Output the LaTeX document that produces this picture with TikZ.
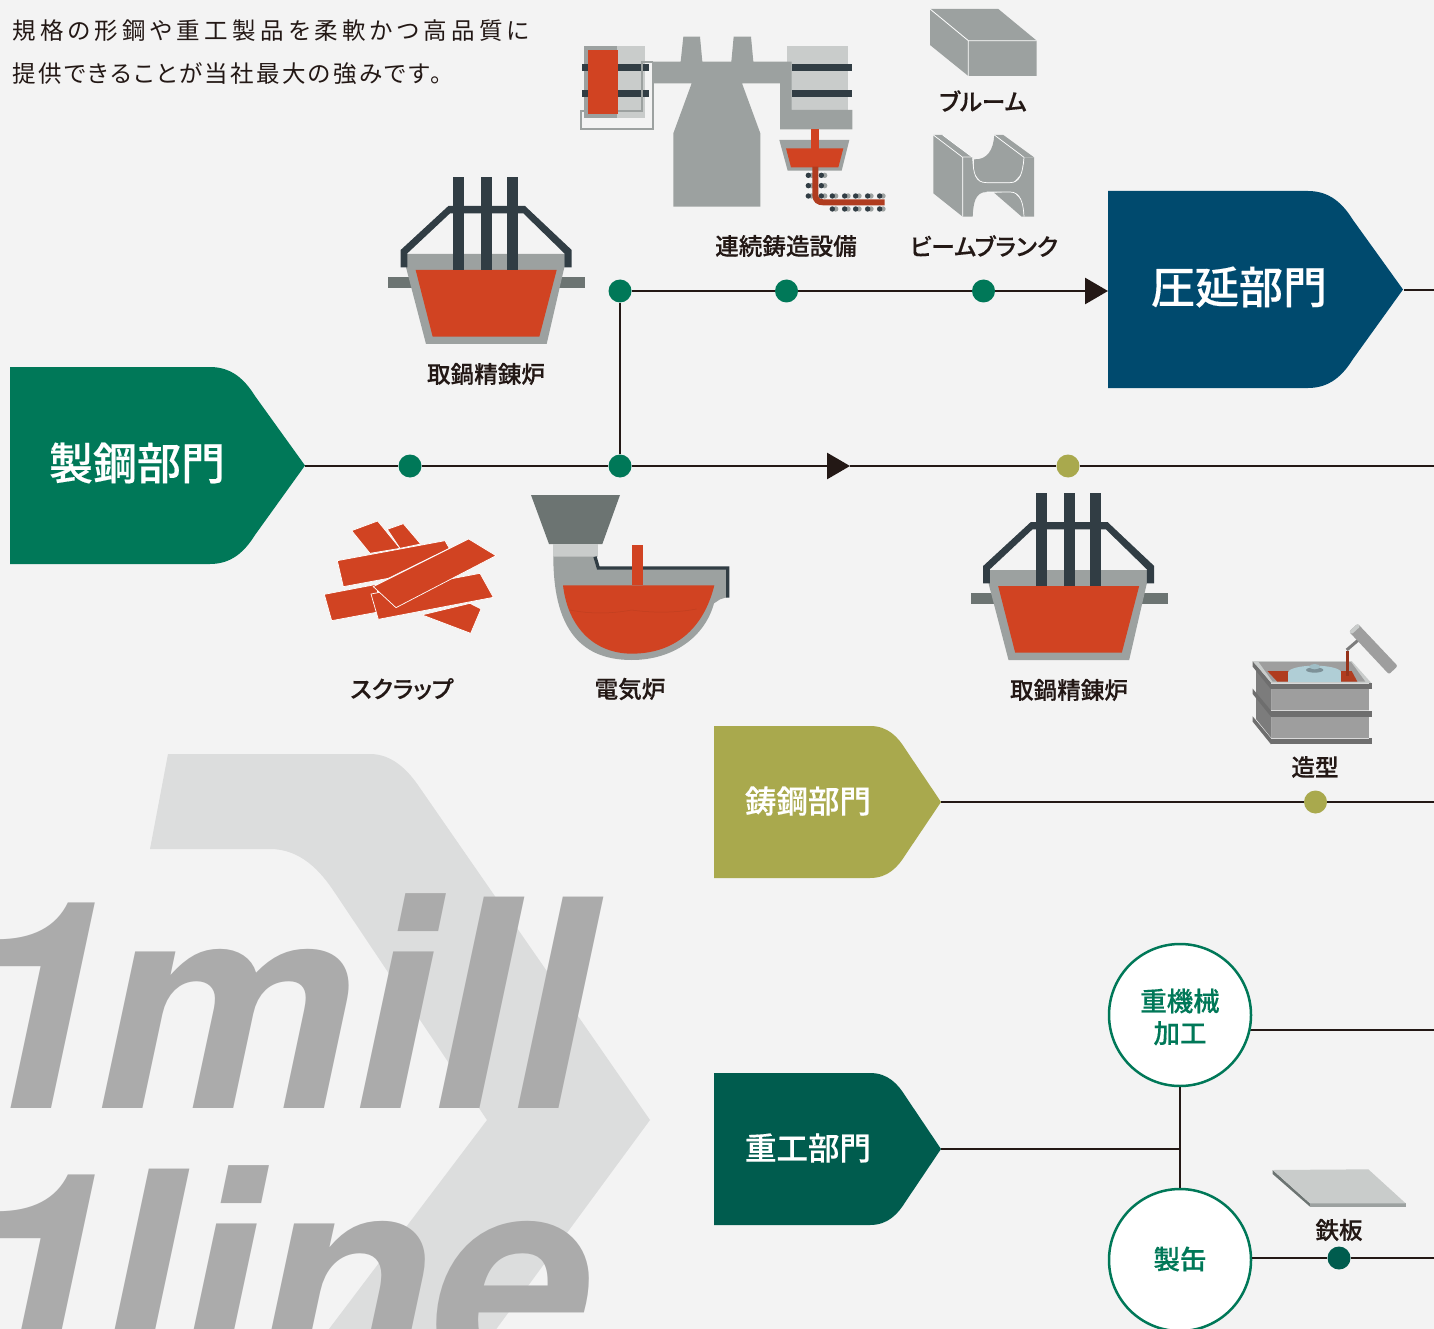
\documentclass[tikz,border=0pt]{standalone}
\usepackage{fontspec}
\setmainfont{Noto Sans CJK JP}[BoldFont={Noto Sans CJK JP Medium},BoldFeatures={FakeBold=0.35},RawFeature=+palt]
\newfontfamily\bigf{TeX Gyre Heros}
\usetikzlibrary{arrows.meta,calc}
\definecolor{bg}{HTML}{F3F3F3}
\definecolor{ink}{HTML}{231815}
\definecolor{green1}{HTML}{007858}
\definecolor{green2}{HTML}{005C4E}
\definecolor{navy}{HTML}{004A6E}
\definecolor{olive}{HTML}{A9A94D}
\definecolor{red1}{HTML}{D14322}
\definecolor{red2}{HTML}{B03C1F}
\definecolor{steel}{HTML}{9CA1A0}
\definecolor{lightsteel}{HTML}{C9CCCB}
\definecolor{dark}{HTML}{313D44}
\definecolor{darkgrey}{HTML}{6C7472}
\definecolor{chev}{HTML}{DCDDDD}
\definecolor{bigtxt}{HTML}{ABABAB}
\tikzset{
  lbl/.style={inner sep=0pt,text=ink,font=\bfseries\fontsize{23.6}{28}\selectfont},
  pentlbl/.style={inner sep=0pt,text=white,font=\bfseries\fontsize{44}{50}\selectfont},
  pentsm/.style={inner sep=0pt,text=white,font=\bfseries\fontsize{31.5}{36}\selectfont},
  para/.style={inner sep=0pt,anchor=west,text=ink,font=\fontsize{23.5}{28}\selectfont},
  dotnode/.style={circle,inner sep=0pt,minimum size=23pt,fill=#1},
  roundnode/.style={circle,inner sep=0pt,minimum size=142pt,fill=white,draw=green1,line width=2.5pt},
  roundtxt/.style={inner sep=0pt,align=center,text=green1,font=\bfseries\fontsize{26.5}{32}\selectfont},
  conn/.style={draw=ink,line width=2.8pt},
  arr/.style={conn,-{Triangle[length=23pt,width=26pt,fill=ink]}},
  bigword/.style={inner sep=0pt,anchor=base west,text=bigtxt,font=\bigf\bfseries\itshape\fontsize{290}{290}\selectfont},
  zoomed/.style={x=0.33333pt,y=-0.33333pt},
  ladle/.pic={
    \begin{scope}[zoomed]
      \fill[darkgrey] (24,321) rectangle (615,354);
      \fill[steel] (78,252) -- (553,252) -- (553,292) -- (500,522) -- (138,522) -- (78,292) -- cycle;
      \fill[red1] (107,300) -- (530,300) -- (478,500) -- (158,500) -- cycle;
      \fill[dark] (62,292) -- (62,240) -- (205,108) -- (435,108) -- (575,240) -- (575,292) -- (553,292) -- (553,250) -- (430,130) -- (210,130) -- (82,250) -- (82,292) -- cycle;
      \fill[dark] (219,20) rectangle (252,300);
      \fill[dark] (303,20) rectangle (336,300);
      \fill[dark] (381,20) rectangle (414,300);
    \end{scope}
  }
}
\newcommand{\bigpent}[3]{\fill[#3,shift={(#1,#2)}] (10,367) -- (210,367) .. controls (232,367) and (245,380) .. (255,396) -- (305,465.5) -- (255,535) .. controls (245,551) and (232,564) .. (210,564) -- (10,564) -- cycle;}
\newcommand{\smallpent}[2]{\fill[#2,shift={(0,#1)}] (714,726) -- (870,726) .. controls (888,726) and (898,737) .. (906,750) -- (941,802) -- (906,854) .. controls (898,867) and (888,878) .. (870,878) -- (714,878) -- cycle;}
\begin{document}
\begin{tikzpicture}[x=1pt,y=-1pt]
\useasboundingbox (0,0) rectangle (1434,1329);
\clip (0,0) rectangle (1434,1329);
\fill[bg] (0,0) rectangle (1434,1329);

% background chevron
\fill[chev] (168,754) -- (370,754) .. controls (392,754) and (408,770) .. (420,788) -- (650,1120) -- (400,1460) -- (230,1460) -- (487,1120) -- (335,893) .. controls (320,870) and (300,849) .. (270,849) -- (150,849) -- cycle;
\node[bigword] (mill) at (-47,1108) {1\kern-18pt{\addfontfeature{LetterSpace=-0.6}mill}};
\node[bigword] (line) at (-47,1380) {1\kern-18pt{\addfontfeature{LetterSpace=-0.6}line}};

% intro text
\node[para] (intro1) at (12,31) {\addfontfeature{LetterSpace=18.5}規格の形鋼や重工製品を柔軟かつ高品質に};
\node[para] (intro2) at (12,74) {\addfontfeature{LetterSpace=10}提供できることが当社最大の強みです。};

% department pentagons
\bigpent{0}{0}{green1}
\bigpent{1098}{-176}{navy}
\smallpent{0}{olive}
\smallpent{347}{green2}
\node[pentlbl] (seiko) at (137,463) {製鋼部門};
\node[pentlbl] (atsuen) at (1239,287) {圧延部門};
\node[pentsm] (chuko) at (808,801) {鋳鋼部門};
\node[pentsm] (juko) at (808,1148) {重工部門};

\coordinate (seikotip) at (305,466);
\coordinate (atsuentip) at (1404,290);
\coordinate (atsuenin) at (1108,291);
\coordinate (atsuenend) at (1434,290);
\coordinate (mainarrow) at (850,466);
\coordinate (mainend) at (1434,466);
\coordinate (chukotip) at (941,802);
\coordinate (chukoend) at (1434,802);
\coordinate (jukotip) at (941,1149);
\coordinate (jukojoin) at (1180,1149);
\coordinate (kikaiend) at (1434,1030);
\coordinate (kikaistart) at (1250,1030);
\coordinate (kanend) at (1434,1258);

% dots
\node[dotnode=green1] (d1) at (410,466) {};
\node[dotnode=green1] (d2) at (620,466) {};
\node[dotnode=green1] (d3) at (620,291) {};
\node[dotnode=green1] (d4) at (786.5,291) {};
\node[dotnode=green1] (d5) at (983.5,291) {};
\node[dotnode=olive] (d6) at (1068,466) {};
\node[dotnode=olive] (d7) at (1315.5,802) {};
\node[dotnode=green2] (d8) at (1339,1258) {};

% connectors
\draw[conn] (seikotip) -- (d1);
\draw[conn] (d1) -- (d2);
\draw[conn] (d2) -- (d3);
\draw[conn] (d3) -- (d4);
\draw[conn] (d4) -- (d5);
\draw[arr] (d5) -- (atsuenin);
\draw[conn] (atsuentip) -- (atsuenend);
\draw[arr] (d2) -- (mainarrow);
\draw[conn] (mainarrow) -- (d6);
\draw[conn] (d6) -- (mainend);
\draw[conn] (chukotip) -- (d7);
\draw[conn] (d7) -- (chukoend);
\draw[conn] (jukotip) -- (jukojoin);
\draw[conn] (kikaistart) -- (kikaiend);

% round nodes
\node[roundnode] (kikai) at (1180,1015) {};
\node[roundnode] (kan) at (1180,1260) {};
\node[roundtxt] (kikaitxt) at (1180,1017) {重機械\\加工};
\node[roundtxt] (kantxt) at (1180,1259) {製缶};
\draw[conn] (kikai) -- (kan);
\draw[conn] (kan.east |- d8) -- (d8);
\draw[conn] (d8) -- (kanend);

% ladles
\pic at (380,170) {ladle};
\pic at (962.5,486) {ladle};

% caster
\begin{scope}[shift={(570,0)},zoomed]
  \fill[lightsteel] (651,138) rectangle (834,330);
  \fill[lightsteel] (42,138) rectangle (225,353);
  \fill[steel] (42,138) rectangle (141,353);
  \fill[dark] (36,192) rectangle (237,213);
  \fill[dark] (36,270) rectangle (237,291);
  \fill[red1] (54,150) rectangle (144,342);
  \draw[draw=steel,line width=2pt] (248,185) -- (215,185) -- (215,332) -- (144,332);
  \draw[draw=steel,line width=2pt] (248,185) -- (248,388) -- (32,388) -- (32,332) -- (42,332);
  \fill[steel] (310,620) -- (310,400) -- (365,250) -- (248,250) -- (248,185) -- (332,185) -- (340,110) -- (390,110) -- (397,185) -- (484,185) -- (491,110) -- (543,110) -- (550,185) -- (665,185) -- (665,330) -- (847,330) -- (847,388) -- (630,388) -- (630,250) -- (516,250) -- (571,400) -- (571,620) -- cycle;
  \fill[dark] (665,192) rectangle (846,213);
  \fill[dark] (665,270) rectangle (846,291);
  \fill[steel] (628,420) -- (838,420) -- (815,512) -- (653,512) -- cycle;
  \fill[red1] (648,445) -- (820,445) -- (805,502) -- (663,502) -- cycle;
  \fill[red1] (723,388) rectangle (747,502);
  \foreach \px/\py in {715/526,754/526,715/557,754/557,715/588,754/588,787/588,824/588,857/588,893/588,929/588,787/627,824/627,857/627,893/627,929/627}{
    \fill[steel] (\px+10,\py) circle[radius=2.7pt];
    \fill[dark] (\px,\py) circle[radius=2.7pt];
  }
  \draw[draw=red2,line width=6pt] (736,500) -- (736,585) .. controls (736,600) and (745,607) .. (760,607) -- (944,607);
\end{scope}

% bloom
\begin{scope}[shift={(900,0)},zoomed]
  \fill[steel] (90,27) -- (295,27) -- (410,122) -- (410,228) -- (205,228) -- (90,135) -- cycle;
  \draw[white,line width=0.8pt] (90,27) -- (205,122) -- (410,122) (205,122) -- (205,228);
\end{scope}

% beam blank
\begin{scope}[shift={(900,0)},zoomed]
  \fill[steel] (100,405) -- (128,405) -- (215,470) -- (188,470) -- (188,650) -- (100,580) -- cycle;
  \fill[steel] (283,405) -- (310,405) -- (402,472) -- (372,472) -- cycle;
  \fill[steel] (222,478) .. controls (262,480) and (280,450) .. (283,405) -- (372,472) -- (365,520) -- (340,548) -- (245,548) -- (222,520) -- cycle;
  \fill[steel] (282,578) -- (340,575) -- (368,605) -- (372,650) -- (365,650) -- cycle;
  \fill[steel] (188,472) -- (218,472) .. controls (220,520) and (225,548) .. (260,548) -- (330,548) .. controls (360,548) and (368,520) .. (372,472) -- (402,472) -- (402,650) -- (372,650) .. controls (370,610) and (362,576) .. (330,576) -- (260,576) .. controls (225,576) and (220,610) .. (218,650) -- (188,650) -- cycle;
  \draw[white,line width=0.7pt] (100,405) -- (188,472) -- (188,650);
  \draw[white,line width=0.7pt] (128,405) -- (215,470);
  \draw[white,line width=0.7pt] (283,405) -- (372,472);
  \draw[white,line width=0.7pt] (218,472) .. controls (220,520) and (225,548) .. (260,548) -- (330,548) .. controls (360,548) and (368,520) .. (372,472);
  \draw[white,line width=0.7pt] (372,650) .. controls (370,610) and (362,576) .. (330,576) -- (260,576);
\end{scope}

% scrap
\begin{scope}[shift={(310,490)},zoomed]
  \tikzset{scrap/.style={fill=red1,draw=white,line width=0.7pt}}
  \path[scrap] (125,122) -- (203,93) -- (270,175) -- (180,190) -- cycle;
  \path[scrap] (232,118) -- (280,101) -- (332,162) -- (270,175) -- cycle;
  \path[scrap] (335,375) -- (480,340) -- (513,357) -- (482,430) -- (350,380) -- cycle;
  \path[scrap] (43,313) -- (200,283) -- (210,365) -- (65,392) -- cycle;
  \path[scrap] (82,212) -- (405,152) -- (418,175) -- (235,265) -- (100,290) -- cycle;
  \path[scrap] (183,312) -- (510,250) -- (550,322) -- (205,388) -- cycle;
  \path[scrap] (190,290) -- (476,147) -- (558,197) -- (258,353) -- cycle;
\end{scope}

% electric furnace
\begin{scope}[shift={(310,490)},zoomed]
  \fill[darkgrey] (663,15) -- (930,15) -- (877,162) -- (717,162) -- cycle;
  \fill[lightsteel] (729,162) rectangle (864,200);
  \fill[steel] (730,200) -- (852,200) -- (862,235) -- (1250,235) -- (1250,322) -- (1230,328) -- (1212,340) .. controls (1185,440) and (1090,510) .. (965,510) .. controls (800,510) and (730,400) .. (730,200) -- cycle;
  \draw[dark,line width=3.3pt] (855,200) -- (865,234) -- (1253,234) -- (1253,323);
  \fill[red1] (759,286) -- (1213,286) .. controls (1180,420) and (1090,491) .. (965,491) .. controls (860,491) and (775,420) .. (759,286) -- cycle;
  \fill[red1] (966,165) rectangle (999,286);
  \draw[red2!50!red1,line width=0.5pt] (780,360) .. controls (840,372) and (900,372) .. (965,360) .. controls (1020,368) and (1090,370) .. (1160,357);
\end{scope}

% mould
\definecolor{mA}{HTML}{9E9E9E}
\definecolor{mB}{HTML}{6E6E6E}
\definecolor{mC}{HTML}{7C7C7C}
\definecolor{mD}{HTML}{B0CED6}
\definecolor{mE}{HTML}{7D9198}
\definecolor{mF}{HTML}{A0BEC6}
\begin{scope}[shift={(1240,615)},zoomed]
  \fill[mC] (48,150) -- (95,205) -- (95,370) -- (48,312) -- cycle;
  \fill[mA] (95,222) rectangle (388,287);
  \fill[mA] (95,305) rectangle (388,370);
  \fill[lightsteel] (38,138) -- (335,138) -- (395,205) -- (95,205) -- cycle;
  \fill[mA] (56,141) -- (333,141) -- (376,200) -- (98,200) -- cycle;
  \fill[red2] (82,168) -- (145,168) -- (145,200) -- (112,200) -- cycle;
  \fill[red2] (303,168) -- (335,168) -- (352,200) -- (303,200) -- cycle;
  \fill[mD] (145,172) rectangle (303,200);
  \fill[mD] (224,172) ellipse[x radius=79,y radius=20];
  \fill[mE] (224,165) ellipse[x radius=26,y radius=8];
  \fill[mF] (224,155) ellipse[x radius=16,y radius=8];
  \fill[red2!85!black] (318,108) rectangle (327,182);
  \draw[mC,line width=3pt] (320,105) -- (355,75);
  \fill[mA,rounded corners=2pt] (353,26) -- (473,153) -- (447,178) -- (327,50) -- cycle;
  \fill[lightsteel,rounded corners=1.5pt] (353,26) -- (361,34) -- (335,58) -- (327,50) -- cycle;
  \foreach \yy in {205,287,370}{
    \fill[mB] (93,\yy) rectangle (396,\yy+18);
    \fill[mB] (38,\yy-66) -- (93,\yy) -- (93,\yy+18) -- (38,\yy-50) -- cycle;
    \draw[white!85!black,line width=0.5pt] (93,\yy-1) -- (388,\yy-1);
  }
\end{scope}

% steel plate
\begin{scope}[shift={(1260,1160)},zoomed]
  \fill[darkgrey] (38,30) -- (150,130) -- (150,140) -- (38,42) -- cycle;
  \fill[steel] (150,130) rectangle (437,140);
  \fill[lightsteel] (38,30) -- (325,28) -- (437,130) -- (150,130) -- cycle;
\end{scope}

% labels
\node[lbl] (l1) at (486,374) {取鍋精錬炉};
\node[lbl] (l2) at (786,246) {連続鋳造設備};
\node[lbl] (l3) at (983,101) {ブルーム};
\node[lbl] (l4) at (984,246) {ビームブランク};
\node[lbl] (l5) at (402,689) {スクラップ};
\node[lbl] (l6) at (630,689) {電気炉};
\node[lbl] (l7) at (1069,690) {取鍋精錬炉};
\node[lbl] (l8) at (1315,767) {造型};
\node[lbl] (l9) at (1339,1230) {鉄板};
\end{tikzpicture}
\end{document}
